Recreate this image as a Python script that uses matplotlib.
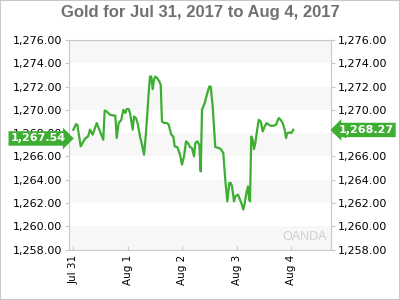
import matplotlib.pyplot as plt
from matplotlib.patches import Rectangle
from matplotlib.transforms import blended_transform_factory

# time in days since Jul 31 00:00, gold price
days = [0.00, 0.05, 0.074, 0.136, 0.215, 0.258, 0.276, 0.307, 0.356, 0.43,
        0.467, 0.503, 0.551, 0.577, 0.614, 0.675, 0.748, 0.772, 0.798, 0.834,
        0.882, 0.919, 0.956, 0.981, 1.018, 1.042, 1.092, 1.116, 1.153, 1.189,
        1.226, 1.263, 1.30, 1.336, 1.386, 1.41, 1.434, 1.46, 1.483, 1.507,
        1.544, 1.581, 1.607, 1.63, 1.667, 1.728, 1.754, 1.801, 1.838, 1.864,
        1.912, 1.961, 1.998, 2.035, 2.072, 2.108, 2.145, 2.182, 2.219, 2.243,
        2.279, 2.316, 2.342, 2.366, 2.415, 2.463, 2.5, 2.526, 2.562, 2.61,
        2.673, 2.71, 2.757, 2.794, 2.831, 2.868, 2.893, 2.917, 2.954, 2.978,
        3.028, 3.064, 3.088, 3.125, 3.151, 3.188, 3.211, 3.235, 3.248, 3.272,
        3.298, 3.322, 3.346, 3.371, 3.408, 3.445, 3.482, 3.518, 3.555, 3.592,
        3.629, 3.676, 3.726, 3.75, 3.776, 3.812, 3.849, 3.886, 3.91, 3.934,
        3.971, 4.007, 4.044]
price = [1268.29, 1268.77, 1268.71, 1266.86, 1267.52, 1267.66, 1267.77, 1268.29, 1267.86, 1268.86,
         1268.43, 1268.00, 1267.43, 1269.94, 1269.86, 1269.57, 1269.51, 1269.49, 1267.58, 1268.86,
         1269.14, 1270.00, 1269.72, 1270.06, 1270.06, 1269.72, 1268.29, 1269.43, 1269.29, 1268.71,
         1267.71, 1267.00, 1266.15, 1268.00, 1271.43, 1272.86, 1272.86, 1271.77, 1272.57, 1272.86,
         1272.71, 1272.43, 1272.14, 1269.00, 1268.86, 1268.86, 1268.71, 1267.86, 1267.71, 1266.86,
         1266.80, 1266.15, 1265.29, 1266.00, 1267.29, 1267.15, 1266.80, 1266.72, 1266.00, 1267.15,
         1267.29, 1267.00, 1264.71, 1270.00, 1270.57, 1271.43, 1272.00, 1272.00, 1270.29, 1266.80,
         1266.72, 1266.63, 1266.29, 1264.00, 1262.14, 1263.72, 1263.72, 1263.43, 1262.14, 1262.57,
         1262.72, 1262.29, 1262.00, 1261.43, 1262.00, 1263.00, 1263.43, 1262.29, 1262.14, 1267.71,
         1267.43, 1266.63, 1267.15, 1268.00, 1269.14, 1269.00, 1268.14, 1268.57, 1268.86, 1268.72,
         1268.63, 1268.63, 1268.72, 1269.00, 1269.29, 1269.14, 1268.86, 1268.29, 1267.58, 1268.00,
         1268.06, 1268.00, 1268.29]

tick_days = [0, 1, 2, 3, 4]
tick_labels = ['Jul 31', 'Aug 1', 'Aug 2', 'Aug 3', 'Aug 4']
y_ticks = list(range(1258, 1277, 2))
open_price = 1267.54
last_price = 1268.27

green = '#3dae32'
spine = '#c8c8c8'

fig = plt.figure(figsize=(4, 3), dpi=100)
fig.patches.append(Rectangle((0, 0), 1, 1, transform=fig.transFigure,
                             fill=False, edgecolor=spine, lw=1.5))
ax = fig.add_axes([0.1725, 0.168, 0.655, 0.699])

for lo in range(1258, 1276, 4):
    ax.axhspan(lo, lo + 2, color='#f7f7f7', lw=0, zorder=0)

ax.plot(days, price, color=green, lw=1.6, zorder=3)

ax.set_xlim(-0.079, 4.737)
ax.set_ylim(1258, 1276)
ax.set_yticks(y_ticks)
ax.set_yticklabels([f'{v:,.2f}' for v in y_ticks])
ax.set_xticks(tick_days)
ax.set_xticklabels(tick_labels, rotation=90)
ax.tick_params(axis='y', which='both', left=True, right=True, labelleft=True,
               labelright=True, length=3, color=spine, labelsize=8, pad=2)
ax.tick_params(axis='x', direction='in', length=3, color=spine, labelsize=7.5, pad=4)
for s in ax.spines.values():
    s.set_color(spine)

fig.suptitle('Gold for Jul 31, 2017 to Aug 4, 2017', y=0.958, va='center', fontsize=12,
             fontweight='bold', color='#707070', family='Liberation Sans')

tr = blended_transform_factory(ax.transAxes, ax.transData)
ax.text(-0.012, open_price, f'{open_price:,.2f}', transform=tr, ha='right', va='center',
        color='white', fontsize=8, fontweight='bold', clip_on=False, zorder=5,
        bbox=dict(boxstyle='rarrow,pad=0.2', fc=green, ec='none'))
ax.text(1.028, last_price, f'{last_price:,.2f}', transform=tr, ha='left', va='center',
        color='white', fontsize=8, fontweight='bold', clip_on=False, zorder=5,
        bbox=dict(boxstyle='larrow,pad=0.2', fc=green, ec='none'))

ax.text(0.985, 0.03, 'OANDA', transform=ax.transAxes, ha='right', va='bottom',
        fontsize=9, color='#cfcfcf', family='Liberation Sans')

fig.savefig('out.png', dpi=100)
